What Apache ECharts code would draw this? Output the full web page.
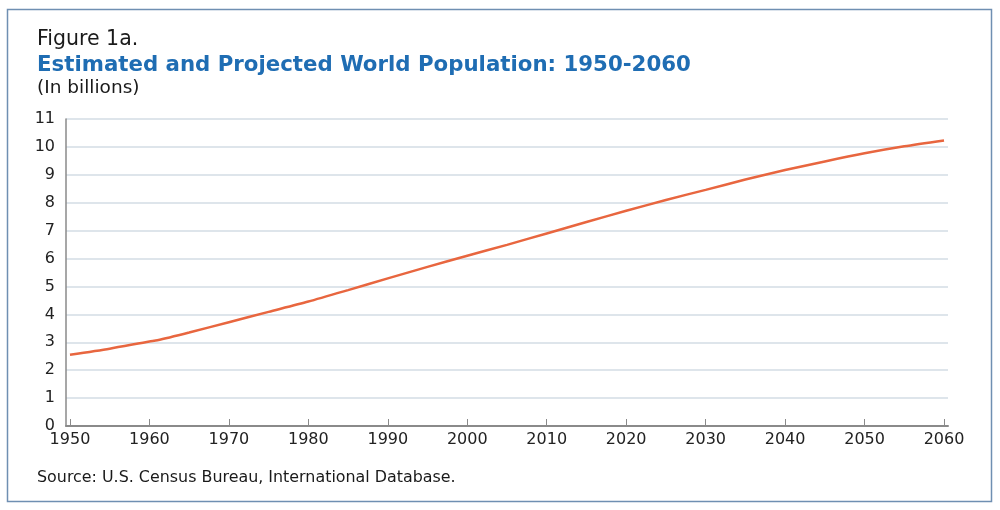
<!DOCTYPE html>
<html>
<head>
<meta charset="utf-8">
<script src="https://cdn.jsdelivr.net/npm/echarts@6/dist/echarts.min.js"></script>
<style>
  html, body { margin: 0; padding: 0; background: #fff; }
  #chart { width: 1000px; height: 510px; }
</style>
</head>
<body>
<div id="chart"></div>
<script>
// world population, billions
var years = [1950, 1955, 1960, 1961, 1965, 1970, 1975, 1980, 1985, 1990, 1995, 2000,
             2005, 2010, 2015, 2020, 2025, 2030, 2035, 2040, 2045, 2050, 2055, 2060];
var population = [2.55, 2.77, 3.03, 3.07, 3.35, 3.72, 4.09, 4.46, 4.87, 5.29, 5.70, 6.10,
                  6.49, 6.90, 7.31, 7.71, 8.10, 8.46, 8.83, 9.17, 9.48, 9.77, 10.02, 10.23];
var yearTicks = [1950, 1960, 1970, 1980, 1990, 2000, 2010, 2020, 2030, 2040, 2050, 2060];

var font = '"DejaVu Sans", sans-serif';
var points = [];
for (var i = 0; i < years.length; i++) {
    points.push([years[i], population[i]]);
}

var myChart = echarts.init(document.getElementById('chart'));
var option = {
    animation: false,
    textStyle: { fontFamily: font },
    graphic: [{
        type: 'rect',
        shape: { x: 7.5, y: 9.5, width: 984, height: 492 },
        style: { fill: 'none', stroke: '#6f8fb2', lineWidth: 1.5 }
    }, {
        type: 'text', left: 37, top: 29,
        style: { text: 'Figure 1a.', font: '20.5px ' + font, fill: '#1a1a1a' }
    }, {
        type: 'text', left: 37, top: 55,
        style: { text: 'Estimated and Projected World Population: 1950-2060', font: 'bold 21.3px ' + font, fill: '#1f6db3' }
    }, {
        type: 'text', left: 37, top: 79,
        style: { text: '(In billions)', font: '18.5px ' + font, fill: '#1a1a1a' }
    }, {
        type: 'text', left: 37, top: 470,
        style: { text: 'Source: U.S. Census Bureau, International Database.', font: '15.9px ' + font, fill: '#1a1a1a' }
    }],
    grid: { left: 66, right: 52, top: 119, bottom: 84 },
    xAxis: {
        type: 'value',
        min: 1949.5,
        max: 2060.5,
        axisLine: { lineStyle: { color: '#8a8a8a', width: 2 } },
        axisTick: { show: true, inside: true, length: 7, customValues: yearTicks, lineStyle: { color: '#8a8a8a', width: 1 } },
        axisLabel: {
            customValues: yearTicks, color: '#222', fontSize: 16, margin: 6, fontFamily: font,
            formatter: function (v) { return String(v); }
        },
        splitLine: { show: false }
    },
    yAxis: {
        type: 'value',
        min: 0,
        max: 11,
        interval: 1,
        axisLine: { show: true, lineStyle: { color: '#8a8a8a', width: 1.5 } },
        axisTick: { show: false },
        axisLabel: { color: '#222', fontSize: 16, margin: 11, fontFamily: font },
        splitLine: { lineStyle: { color: '#d3dde5', width: 1.5 } }
    },
    series: [{
        type: 'line',
        data: points,
        smooth: 0.25,
        showSymbol: false,
        lineStyle: { color: '#e8663f', width: 2.5 }
    }]
};
myChart.setOption(option);
</script>
</body>
</html>
